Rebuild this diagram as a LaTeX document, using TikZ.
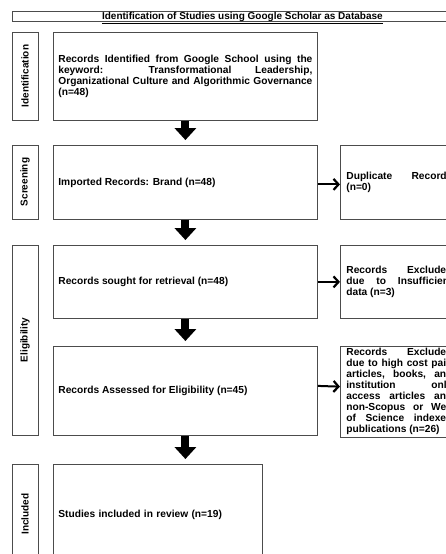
\documentclass[tikz,border=0pt]{standalone}
\usepackage{fontspec}
\setmainfont{Liberation Sans}
\usetikzlibrary{arrows.meta}
\hyphenpenalty=10000
\exhyphenpenalty=10000
\tolerance=10000

\begin{document}
\begin{tikzpicture}[x=1pt, y=-1pt, every node/.style={font=\fontsize{10.2}{11}\selectfont\bfseries},
	box/.style={draw=black!70, line width=0.8pt, anchor=north west, inner xsep=5pt, inner ysep=2pt},
	mainbox/.style={box, minimum width=264pt, text width=254pt, align=justify},
	exclbox/.style={box, inner xsep=6pt, minimum width=118pt, text width=106pt, align=justify},
	sidebox/.style={draw=black!70, line width=0.8pt, rotate=90, minimum height=26pt, inner sep=0pt, font=\fontsize{10}{11}\selectfont\bfseries},
	downarrow/.style={line width=8pt, -{Triangle[length=12pt, width=22pt, line width=0pt]}, shorten >=5pt},
	sidearrow/.style={line width=2pt, -{Straight Barb[length=5pt, width=11pt, line width=2.2pt]}}]
	\useasboundingbox (0,0) rectangle (446,554);
	\clip (0,0) rectangle (446,554);
	% title
	\node[box, minimum width=460pt, inner sep=0pt, text height=8pt, text depth=2pt, font=\fontsize{10}{11}\selectfont\bfseries] (title) at (12,11) {\underline{Identification of Studies using Google Scholar as Database}};
	% phases
	\node[sidebox, minimum width=88pt] (sIdent) at (25,76) {Identification};
	\node[sidebox, minimum width=74pt] (sScreen) at (25,182) {Screening};
	\node[sidebox, minimum width=190pt] (sElig) at (25,340) {Eligibility};
	\node[sidebox, minimum width=100pt] (sIncl) at (25,514) {Included};
	% main column
	\node[mainbox, minimum height=88pt] (ident) at (53,32) {Records Identified from Google School using the\linebreak keyword: Transformational Leadership,\linebreak Organizational Culture and Algorithmic Governance\linebreak (n=48)};
	\node[mainbox, minimum height=74pt] (screen) at (53,145) {Imported Records: Brand (n=48)};
	\node[mainbox, minimum height=73pt] (sought) at (53,245) {Records sought for retrieval (n=48)};
	\node[mainbox, minimum height=89pt] (assess) at (53,346) {Records Assessed for Eligibility (n=45)};
	\node[box, minimum width=209pt, text width=199pt, minimum height=100pt] (incl) at (53,464) {Studies included in review (n=19)};
	% excluded
	\node[exclbox, minimum height=74pt] (dup) at (340,145) {Duplicate Records\linebreak (n=0)};
	\node[exclbox, minimum height=73pt] (insuff) at (340,245) {Records Excluded\linebreak due to Insufficient\linebreak data (n=3)};
	\node[exclbox, minimum height=89pt] (cost) at (340,346) {Records Excluded\linebreak due to high cost paid\linebreak articles, books, and\linebreak institution only\linebreak access articles and\linebreak non-Scopus or Web\linebreak of Science indexed\linebreak publications (n=26)};
	% arrows
	\draw[downarrow] (ident.south) -- (screen.north);
	\draw[downarrow] (screen.south) -- (sought.north);
	\draw[downarrow] (sought.south) -- (assess.north);
	\draw[downarrow] (assess.south) -- (assess.south |- incl.north);
	\draw[sidearrow] ([yshift=-2pt]screen.east) -- ([yshift=-2pt]dup.west);
	\draw[sidearrow] (sought.east) -- (insuff.west);
	\draw[sidearrow] ([yshift=5pt]assess.east) -- ([yshift=5pt]cost.west);
\end{tikzpicture}
\end{document}
